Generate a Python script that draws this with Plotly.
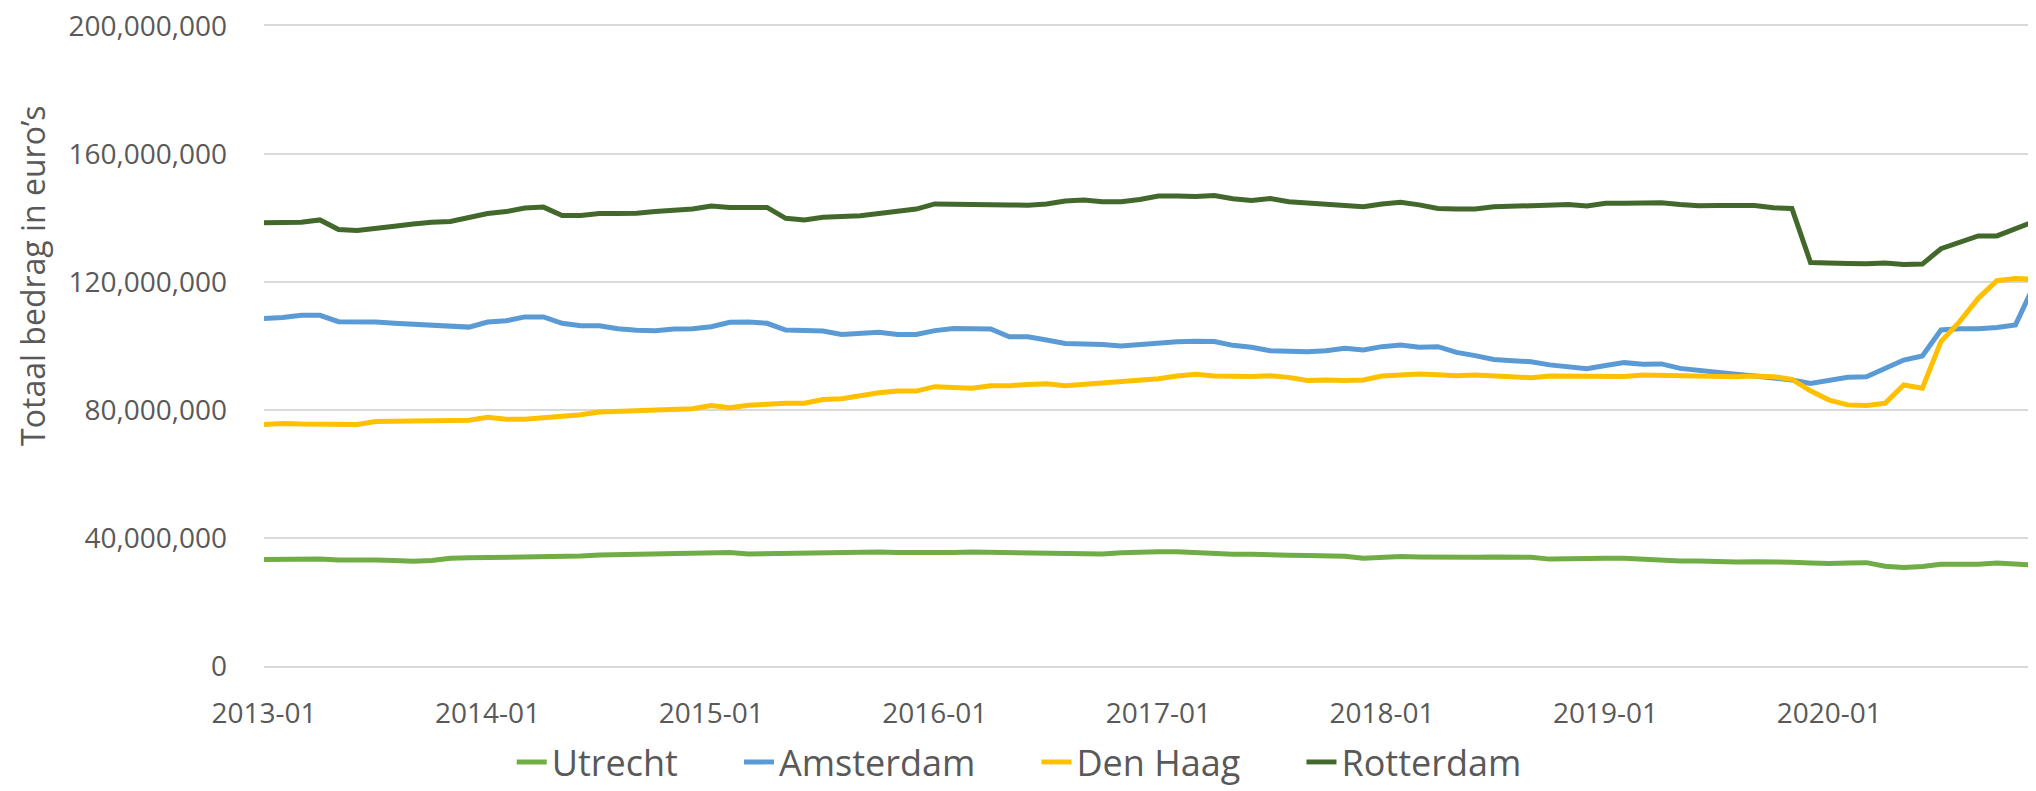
import plotly.graph_objects as go

# monthly categories 2013-01 .. 2020-12
months = [f"{y}-{m:02d}" for y in range(2013, 2021) for m in range(1, 13)]
year_ticks = [f"{y}-01" for y in range(2013, 2021)]

# values in millions of euro's
utrecht = [
    33.3, 33.4, 33.4, 33.4, 33.1, 33.2, 33.1, 33.0, 32.7, 33.0, 33.7, 33.8,
    33.9, 34.0, 33.9, 34.1, 34.3, 34.4, 34.7, 34.8, 34.7, 34.9, 35.0, 35.1,
    35.4, 35.5, 35.0, 35.1, 35.2, 35.3, 35.5, 35.3, 35.5, 35.6, 35.5, 35.4,
    35.4, 35.5, 35.6, 35.5, 35.5, 35.4, 35.3, 35.2, 35.1, 35.0, 35.4, 35.7,
    35.7, 35.7, 35.4, 35.0, 34.9, 34.9, 34.9, 34.6, 34.5, 34.3, 34.3, 33.7,
    34.0, 34.2, 34.1, 34.0, 34.0, 34.0, 34.1, 34.2, 34.0, 33.4, 33.6, 33.7,
    33.7, 33.7, 33.4, 32.8, 32.8, 32.8, 32.6, 32.5, 32.6, 32.6, 32.4, 32.2,
    32.0, 32.2, 32.3, 31.2, 30.8, 31.1, 31.8, 31.8, 31.8, 32.2, 31.9, 31.5,
]
amsterdam = [
    108.6, 108.9, 109.6, 109.6, 107.6, 107.6, 107.5, 107.1, 106.8, 106.4, 105.9, 105.9,
    107.5, 107.9, 109.1, 109.1, 107.1, 106.3, 106.3, 105.4, 104.9, 104.8, 105.3, 105.4,
    106.0, 107.4, 107.5, 107.1, 105.0, 104.8, 104.7, 103.6, 104.1, 104.3, 103.6, 103.6,
    104.8, 105.5, 105.4, 105.3, 102.9, 102.9, 101.9, 100.8, 100.6, 100.5, 100.0, 100.5,
    100.9, 101.3, 101.5, 101.4, 100.2, 99.6, 98.5, 98.2, 98.2, 98.5, 99.3, 98.75,
    99.8, 100.3, 99.6, 99.8, 98.0, 97.0, 95.8, 95.4, 95.1, 94.1, 93.5, 92.9,
    93.9, 94.8, 94.3, 94.4, 93.0, 92.3, 91.7, 91.2, 90.6, 89.9, 89.4, 88.3,
    89.4, 90.2, 90.4, 93.0, 95.6, 96.9, 105.0, 105.4, 105.4, 105.8, 106.6, 119.1,
]
den_haag = [
    75.5, 75.8, 75.6, 75.6, 75.8, 75.5, 76.4, 76.5, 76.5, 76.5, 76.6, 76.8,
    77.7, 77.1, 77.1, 77.5, 78.1, 78.5, 79.4, 79.6, 79.7, 80.1, 80.1, 80.4,
    81.4, 80.7, 81.5, 81.9, 82.1, 82.1, 83.3, 83.5, 84.4, 85.4, 85.9, 85.9,
    87.3, 87.2, 86.8, 87.6, 87.6, 88.0, 88.2, 87.6, 88.0, 88.5, 88.8, 89.1,
    89.8, 90.6, 91.2, 90.6, 90.4, 90.5, 90.7, 90.2, 89.2, 89.4, 89.2, 89.4,
    90.6, 90.9, 91.25, 91.0, 90.7, 90.9, 90.6, 90.2, 90.1, 90.6, 90.6, 90.5,
    90.8, 90.5, 90.9, 90.8, 90.6, 90.5, 90.5, 90.4, 90.6, 90.4, 89.6, 86.0,
    83.1, 81.6, 81.4, 82.1, 87.8, 86.8, 101.4, 107.6, 114.9, 120.4, 121.1, 120.8,
]
rotterdam = [
    138.5, 138.5, 138.7, 139.4, 136.4, 136.1, 136.6, 137.4, 138.1, 138.7, 138.9, 140.1,
    141.4, 142.0, 143.1, 143.4, 140.8, 140.8, 141.4, 141.4, 141.5, 142.0, 142.3, 142.8,
    143.75, 143.3, 143.3, 143.3, 139.9, 139.4, 140.2, 140.4, 140.7, 141.4, 142.0, 142.8,
    144.4, 144.4, 144.4, 144.4, 144.1, 144.0, 144.4, 145.3, 145.6, 145.1, 145.1, 145.8,
    146.9, 146.9, 146.7, 147.0, 146.0, 145.5, 146.1, 145.1, 144.7, 144.3, 143.6, 143.5,
    144.4, 144.9, 144.1, 143.0, 142.8, 142.8, 143.5, 143.75, 143.75, 144.2, 144.2, 143.75,
    144.6, 144.6, 144.8, 144.8, 144.2, 143.8, 143.9, 143.75, 143.9, 143.2, 143.0, 126.1,
    125.8, 125.8, 125.7, 125.9, 125.5, 125.6, 130.4, 132.6, 134.4, 134.4, 136.5, 138.9,
]

series = [
    ("Utrecht", utrecht, "#70AD47"),
    ("Amsterdam", amsterdam, "#5B9BD5"),
    ("Den Haag", den_haag, "#FFC000"),
    ("Rotterdam", rotterdam, "#43682B"),
]

text_color = "#595959"
grid_color = "#d9d9d9"
font_family = "Open Sans"
pad = "\u00a0" * 6  # extra room between legend entries

fig = go.Figure()
for name, vals, color in series:
    fig.add_trace(go.Scatter(
        x=months,
        y=[v * 1e6 for v in vals],
        mode="lines",
        name=name + pad,
        line=dict(color=color, width=5),
    ))

# the page body keeps an 8px margin, so the figure is 8px smaller than the window
fig.update_layout(
    width=2028,
    height=783,
    margin=dict(l=256, r=0, t=18, b=125, autoexpand=False),
    paper_bgcolor="white",
    plot_bgcolor="white",
    font=dict(family=font_family, color=text_color),
    showlegend=True,
    legend=dict(
        orientation="h",
        x=0.442, xanchor="center",
        y=-0.15, yanchor="middle",
        font=dict(size=36, color=text_color),
        itemwidth=30,
    ),
    annotations=[dict(
        text="Totaal bedrag in euro’s",
        xref="paper", yref="paper",
        x=-0.1304, y=0.611,
        xanchor="center", yanchor="middle",
        textangle=-90,
        showarrow=False,
        font=dict(size=32, color=text_color),
    )],
)

fig.update_xaxes(
    type="category",
    range=[0, 95.1],
    tickvals=year_ticks,
    ticktext=year_ticks,
    showgrid=False,
    showline=True,
    mirror=True,
    linecolor=grid_color,
    linewidth=1.5,
    zeroline=False,
    automargin=False,
    tickfont=dict(size=28, color=text_color),
    ticklabelstandoff=22,
)

fig.update_yaxes(
    range=[0, 200e6],
    dtick=40e6,
    tickformat=",",
    showgrid=True,
    gridcolor=grid_color,
    gridwidth=1.5,
    zeroline=False,
    showline=False,
    automargin=False,
    ticklabeloverflow="allow",
    tickfont=dict(size=28, color=text_color),
    ticklabelstandoff=36,
)

fig.write_html("out.html")
